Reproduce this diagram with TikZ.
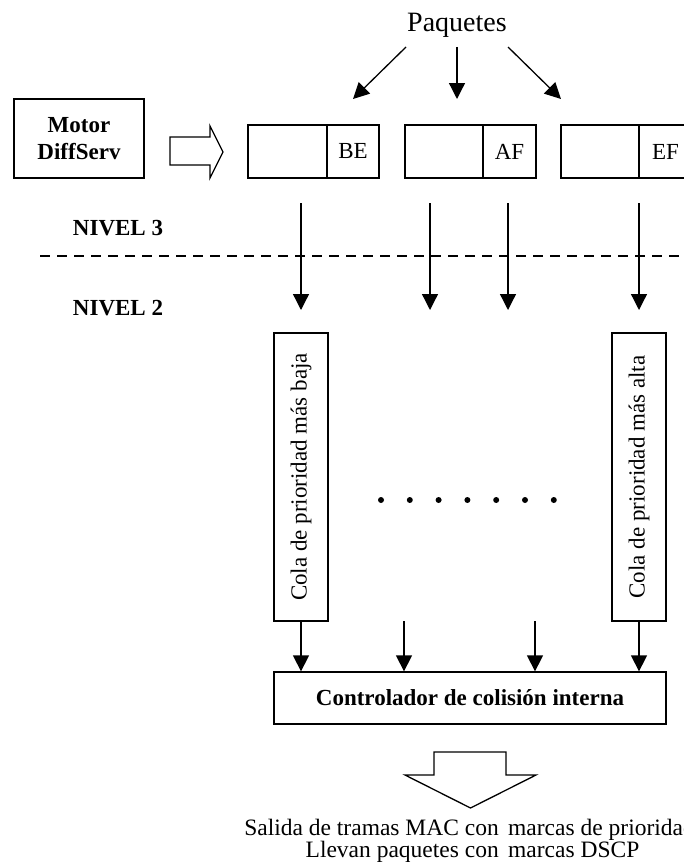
\documentclass[tikz,border=0pt]{standalone}
\usepackage{fontspec}
\setmainfont{Liberation Serif}
\usetikzlibrary{arrows.meta}
\begin{document}
\begin{tikzpicture}[x=1pt,y=-1pt,
  box/.style={draw, line width=1.3pt, inner sep=0pt},
  arr/.style={line width=1.3pt, -{Triangle[width=16pt,length=16pt]}},
  lbl/.style={font=\fontsize{23}{26}\selectfont},
  sml/.style={font=\fontsize{23.5}{25}\selectfont, inner sep=0pt},
  blbl/.style={font=\fontsize{23}{27}\selectfont\bfseries},
  blockarrow/.style={draw, line width=1.3pt, fill=white},
]
\useasboundingbox (0,0) rectangle (684,867);
\clip (0,0) rectangle (684,867);

% title and incoming arrows
\node[font=\fontsize{28}{32}\selectfont, anchor=base, inner sep=0pt] (paq) at (457,32) {Paquetes};
\coordinate (pl) at (406,47);
\coordinate (pm) at (457,47);
\coordinate (pr) at (508,47);
\coordinate (tl) at (353,99);
\coordinate (tm) at (457,99);
\coordinate (tr) at (561,99);
\draw[arr] (pl) -- (tl);
\draw[arr] (pm) -- (tm);
\draw[arr] (pr) -- (tr);

% motor
\node[box, minimum width=130pt, minimum height=79pt, blbl, align=center] (motor) at (79,138.5) {Motor\\DiffServ};
\draw[blockarrow] (170,137) -- (210,137) -- (210,126) -- (223,152) -- (210,178) -- (210,165) -- (170,165) -- cycle;

% classifier boxes
\node[box, minimum width=79pt, minimum height=53pt] (be0) at (287.5,151.5) {};
\node[box, minimum width=52pt, minimum height=53pt, lbl] (be) at (353,151.5) {BE};
\node[box, minimum width=78pt, minimum height=53pt] (af0) at (444,151.5) {};
\node[box, minimum width=53pt, minimum height=53pt, lbl] (af) at (509.5,151.5) {AF};
\node[box, minimum width=78pt, minimum height=53pt] (ef0) at (600,151.5) {};
\node[box, minimum width=53pt, minimum height=53pt, lbl] (ef) at (665.5,151.5) {EF};

% levels
\node[blbl] (n3) at (118,228) {NIVEL 3};
\node[blbl] (n2) at (118,308) {NIVEL 2};
\coordinate (dl) at (40,256);
\coordinate (dr) at (684,256);
\draw[line width=2.5pt, dash pattern=on 10pt off 7pt] (dl) -- (dr);

\foreach \x/\n in {301/a,430/b,508/c,639/d}{
  \coordinate (s\n) at (\x,203);
  \coordinate (e\n) at (\x,310);
  \draw[arr] (s\n) -- (e\n);
}

% queues
\node[box, minimum width=54pt, minimum height=288pt] (qlow) at (301,477) {};
\node[lbl, rotate=90] (qlowt) at (qlow) {Cola de prioridad más baja};
\node[box, minimum width=54pt, minimum height=288pt] (qhigh) at (639,477) {};
\node[lbl, rotate=90] (qhight) at (qhigh) {Cola de prioridad más alta};

\foreach \i in {0,...,6}{
  \fill (381+28.8*\i,500) circle (3pt);
}

% controller
\node[box, minimum width=392pt, minimum height=52pt, blbl] (ctrl) at (470,698) {Controlador de colisión interna};
\draw[arr] (qlow.south) -- (qlow.south |- ctrl.north);
\coordinate (m1) at (404,621);
\coordinate (m2) at (535,621);
\draw[arr] (m1) -- (m1 |- ctrl.north);
\draw[arr] (m2) -- (m2 |- ctrl.north);
\draw[arr] (qhigh.south) -- (qhigh.south |- ctrl.north);

% output block arrow
\draw[blockarrow] (434,752) -- (506,752) -- (506,775) -- (536,775) -- (470.5,808) -- (405,775) -- (434,775) -- cycle;

% output text (the reference cuts the first line at the right edge)
\node[sml, anchor=base east] (o1a) at (499,835) {Salida de tramas MAC con};
\node[sml, anchor=base west] (o1b) at (508,835) {marcas de prioridad};
\node[sml, anchor=base east] (o2a) at (499,857) {Llevan paquetes con};
\node[sml, anchor=base west] (o2b) at (508,857) {marcas DSCP};
\end{tikzpicture}
\end{document}
